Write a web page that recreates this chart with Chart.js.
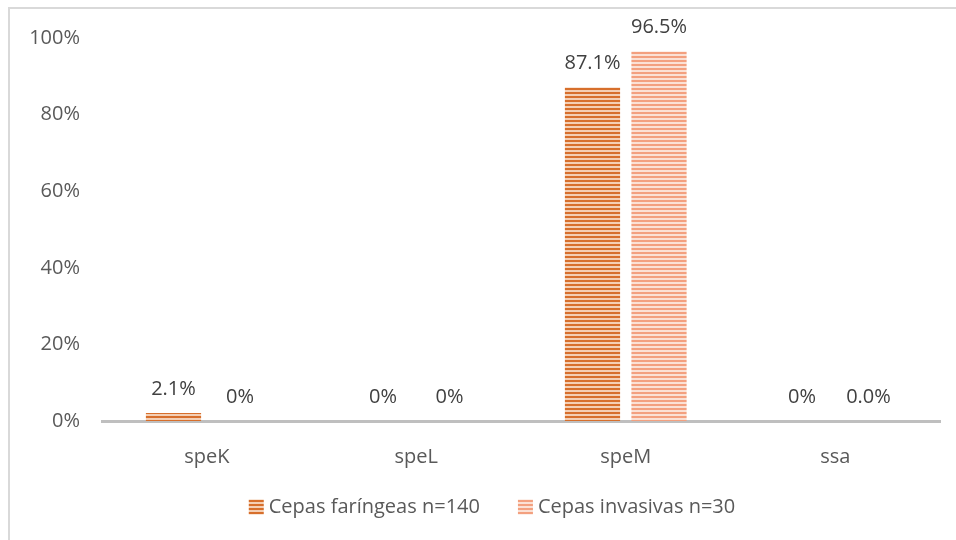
<!DOCTYPE html>
<html>
<head>
<meta charset="utf-8">
<script src="https://cdn.jsdelivr.net/npm/chart.js@4.4.1/dist/chart.umd.min.js"></script>
<style>
  html, body { margin: 0; padding: 0; background: #ffffff; }
  #wrap { position: relative; width: 956px; height: 540px; overflow: hidden; }
  #frame { position: absolute; left: 8px; top: 7px; width: 1000px; height: 1000px;
           border: 2px solid #d9d9d9; box-sizing: border-box; }
  #c { position: absolute; left: 0; top: 0; }
</style>
</head>
<body>
<div id="wrap">
  <div id="frame"></div>
  <canvas id="c" width="956" height="540"></canvas>
</div>
<script>
// Genes and percentage of strains carrying each one
const categories = ['speK', 'speL', 'speM', 'ssa'];
const seriesNames = ['Cepas faríngeas n=140', 'Cepas invasivas n=30'];
const faringeas = [2.1, 0, 87.1, 0];
const invasivas = [0, 0, 96.5, 0];
// Decimal places shown on each value label
const faringeasDecimals = [1, 0, 1, 0];
const invasivasDecimals = [0, 0, 1, 1];
const yTicks = [0, 20, 40, 60, 80, 100];

const FONT = "'Open Sans', sans-serif";
const SIZE = 20;
const TEXT = '#595959';

// Horizontal-stripe fill used by the bars and legend swatches
function stripes(main, light) {
  const p = document.createElement('canvas');
  p.width = 8; p.height = 4;
  const g = p.getContext('2d');
  g.fillStyle = light; g.fillRect(0, 0, 8, 4);
  g.fillStyle = main; g.fillRect(0, 0, 8, 2);
  return g.createPattern(p, 'repeat');
}

const ctx = document.getElementById('c').getContext('2d');
const fillA = stripes('#d76f2c', '#f4cfb4');
const fillB = stripes('#f3a07f', '#fbe1d5');

// Percentage written above every bar
const valueLabels = {
  id: 'valueLabels',
  afterDatasetsDraw(chart) {
    const c = chart.ctx;
    c.save();
    c.font = SIZE + 'px ' + FONT;
    c.fillStyle = '#404040';
    c.textAlign = 'center';
    c.textBaseline = 'middle';
    chart.data.datasets.forEach((ds, di) => {
      chart.getDatasetMeta(di).data.forEach((bar, i) => {
        const txt = ds.data[i].toFixed(ds.decimals[i]) + '%';
        c.fillText(txt, bar.x, bar.y - 24);
      });
    });
    c.restore();
  }
};

// Legend row under the axis: swatch + series name, centred as a group
const bottomLegend = {
  id: 'bottomLegend',
  afterDraw(chart) {
    const c = chart.ctx;
    const box = 15, gapText = 5, gapItem = 38, cy = 507;
    c.save();
    c.font = SIZE + 'px ' + FONT;
    c.textBaseline = 'middle';
    c.textAlign = 'left';
    const items = chart.data.datasets.map(ds => ({
      ds, w: box + gapText + c.measureText(ds.label).width
    }));
    const total = items.reduce((s, it) => s + it.w, 0) + gapItem * (items.length - 1);
    let x = 492 - total / 2;
    items.forEach(it => {
      c.fillStyle = it.ds.backgroundColor;
      c.fillRect(x, cy - box / 2, box, box);
      c.fillStyle = TEXT;
      c.fillText(it.ds.label, x + box + gapText, cy);
      x += it.w + gapItem;
    });
    c.restore();
  }
};

new Chart(ctx, {
  type: 'bar',
  data: {
    labels: categories,
    datasets: [
      { label: seriesNames[0], data: faringeas, decimals: faringeasDecimals,
        backgroundColor: fillA, borderWidth: 0 },
      { label: seriesNames[1], data: invasivas, decimals: invasivasDecimals,
        backgroundColor: fillB, borderWidth: 0 }
    ]
  },
  options: {
    responsive: false,
    animation: false,
    devicePixelRatio: 1,
    categoryPercentage: 0.635,
    barPercentage: 0.83,
    layout: { padding: { top: 38, right: 16, bottom: 59, left: 0 } },
    scales: {
      x: {
        grid: { display: false, tickLength: 0 },
        border: { display: true, color: '#bfbfbf', width: 3 },
        ticks: { color: TEXT, font: { family: FONT, size: SIZE }, padding: 24 },
        afterFit(s) { s.height = 60; }
      },
      y: {
        min: 0, max: 100,
        grid: { display: false, tickLength: 0 },
        border: { display: false },
        afterBuildTicks(s) { s.ticks = yTicks.map(v => ({ value: v })); },
        ticks: { color: TEXT, font: { family: FONT, size: SIZE }, padding: 22,
                 callback: v => v + '%' },
        afterFit(s) { s.width = 102; }
      }
    },
    plugins: {
      tooltip: { enabled: false },
      legend: { display: false }
    }
  },
  plugins: [valueLabels, bottomLegend]
});
</script>
</body>
</html>
